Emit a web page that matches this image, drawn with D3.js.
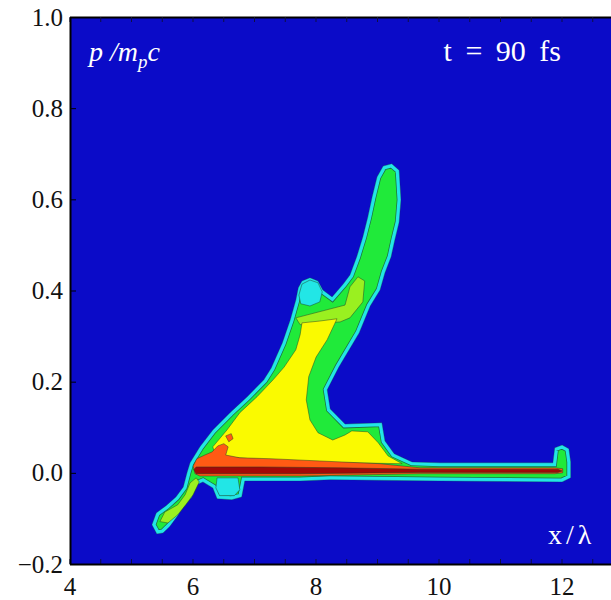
<!DOCTYPE html>
<html>
<head>
<meta charset="utf-8">
<title>Proton phase space, t = 90 fs</title>
<script src="https://cdn.jsdelivr.net/npm/d3@7"></script>
<style>
  body { margin: 0; padding: 0; background: #fff; }
  svg { display: block; }
  .axis path, .axis line { stroke: #000; }
  .axis .domain { stroke-width: 2; }
  .axis text { font-family: 'Liberation Serif', 'Times New Roman', serif; font-size: 25px; fill: #111; }
  .minor line { stroke: #101040; }
  .label { fill: #fff; font-family: 'Liberation Serif', 'Times New Roman', serif; }
  .contour { stroke: #1d3a26; stroke-width: 0.8; stroke-opacity: 0.6; }
</style>
</head>
<body>
<div id="vis"></div>
<script>
// axis ticks
var xTicks = [4, 6, 8, 10, 12],
    yTicks = [-0.2, 0, 0.2, 0.4, 0.6, 0.8, 1.0],
    xMinor = [4, 4.5, 5, 5.5, 6, 6.5, 7, 7.5, 8, 8.5, 9, 9.5, 10, 10.5, 11, 11.5, 12, 12.5];

// contour polygons, [x/lambda, p/mpc]
// outermost level (cyan edge, green inside)
var envelope = [
  [9.10, 0.673], [9.24, 0.678], [9.36, 0.664], [9.39, 0.599], [9.36, 0.550], [9.29, 0.511],
  [9.23, 0.474], [9.13, 0.439], [9.05, 0.401], [8.89, 0.366], [8.71, 0.307], [8.38, 0.232],
  [8.19, 0.182], [8.24, 0.140], [8.48, 0.107], [9.08, 0.110], [9.13, 0.070], [9.28, 0.042],
  [9.57, 0.024], [10.02, 0.022], [11.86, 0.022], [11.89, 0.055], [12.01, 0.061], [12.12, 0.053],
  [12.15, 0.024], [12.15, -0.011], [12.01, -0.020], [10.02, -0.018], [8.24, -0.015], [7.75, -0.018],
  [6.85, -0.018], [6.80, -0.053], [6.64, -0.059], [6.40, -0.057], [6.33, -0.033], [6.17, -0.020],
  [6.07, -0.026], [5.99, -0.053], [5.85, -0.075], [5.75, -0.096], [5.63, -0.118], [5.52, -0.132],
  [5.42, -0.134], [5.34, -0.114], [5.41, -0.088], [5.57, -0.072], [5.73, -0.053], [5.85, -0.031],
  [5.91, 0.000], [5.96, 0.022], [6.12, 0.057], [6.33, 0.094], [6.61, 0.132], [6.89, 0.167],
  [7.16, 0.204], [7.28, 0.230], [7.46, 0.285], [7.59, 0.336], [7.68, 0.379], [7.72, 0.406],
  [7.78, 0.421], [7.91, 0.428], [8.04, 0.421], [8.12, 0.401], [8.27, 0.386], [8.45, 0.414],
  [8.56, 0.434], [8.67, 0.474], [8.77, 0.518], [8.85, 0.561], [8.92, 0.605], [9.00, 0.649]
];

var cyanPatches = [
  [[7.73, 0.390], [7.78, 0.414], [7.91, 0.423], [8.04, 0.417], [8.11, 0.397], [8.07, 0.375], [7.91, 0.366], [7.76, 0.371]],
  [[6.40, -0.011], [6.74, -0.011], [6.77, -0.037], [6.68, -0.050], [6.44, -0.050], [6.38, -0.033]]
];

var lightGreenPatches = [
  [[5.47, -0.107], [5.55, -0.086], [5.76, -0.070], [5.88, -0.048], [5.96, -0.022], [6.06, -0.011],
   [6.11, -0.020], [6.01, -0.048], [5.89, -0.070], [5.76, -0.092], [5.60, -0.110]],
  [[7.68, 0.340], [8.48, 0.368], [8.56, 0.408], [8.69, 0.430], [8.80, 0.421], [8.77, 0.375],
   [8.56, 0.340], [8.40, 0.331], [7.75, 0.325]]
];

var yellowPatches = [
  [[7.78, 0.329], [8.07, 0.333], [8.35, 0.338], [8.19, 0.292], [8.01, 0.254], [7.89, 0.211],
   [7.85, 0.160], [7.91, 0.116], [8.04, 0.088], [8.28, 0.072], [8.48, 0.083], [8.59, 0.092],
   [8.85, 0.090], [9.02, 0.066], [9.18, 0.037], [9.41, 0.020], [7.75, 0.024], [6.93, 0.031],
   [6.53, 0.035], [6.37, 0.039], [6.33, 0.057], [6.56, 0.094], [6.77, 0.132], [7.05, 0.167],
   [7.31, 0.204], [7.49, 0.232], [7.68, 0.270], [7.75, 0.303]]
];

var orangePatches = [
  [[6.01, 0.015], [6.07, 0.031], [6.20, 0.039], [6.32, 0.046], [6.41, 0.059], [6.51, 0.064],
   [6.58, 0.057], [6.54, 0.039], [6.77, 0.033], [7.26, 0.031], [8.07, 0.026], [9.05, 0.020],
   [9.70, 0.011], [11.89, 0.011], [12.02, 0.009], [12.02, 0.000], [11.89, -0.002], [9.70, -0.002],
   [7.75, -0.007], [6.12, -0.007], [6.04, -0.002]],
  [[6.54, 0.081], [6.63, 0.086], [6.66, 0.075], [6.59, 0.068]]
];

var darkRedPatches = [
  [[6.06, 0.013], [7.10, 0.013], [8.40, 0.011], [9.70, 0.008], [11.94, 0.008], [12.01, 0.004],
   [11.94, 0.001], [9.70, 0.001], [7.75, -0.002], [6.06, -0.002], [6.02, 0.007]]
];

var colors = {
  blue: '#0b0bc8',
  cyan: '#22e6e6',
  green: '#20ea3a',
  lightGreen: '#9af020',
  yellow: '#fafa00',
  orange: '#ff5a14',
  darkRed: '#a20808'
};

var width = 611, height = 600,
    plotLeft = 70, plotTop = 17, plotBottom = 564;

var x = d3.scaleLinear().domain([4, 13]).range([69.5, 69.5 + 9 * 61.5]);
var y = d3.scaleLinear().domain([-0.2, 1.0]).range([plotBottom, plotTop]);

var line = d3.line()
  .x(function(d) { return x(d[0]); })
  .y(function(d) { return y(d[1]); })
  .curve(d3.curveLinearClosed);

var svg = d3.select('#vis').append('svg')
  .attr('width', width)
  .attr('height', height);

var defs = svg.append('defs');
defs.append('clipPath').attr('id', 'plot-clip')
  .append('rect')
  .attr('x', plotLeft).attr('y', plotTop)
  .attr('width', width - plotLeft).attr('height', plotBottom - plotTop);
defs.append('clipPath').attr('id', 'env-clip')
  .append('path').attr('d', line(envelope));

var plot = svg.append('g').attr('clip-path', 'url(#plot-clip)');

plot.append('rect')
  .attr('x', plotLeft).attr('y', plotTop)
  .attr('width', width - plotLeft).attr('height', plotBottom - plotTop)
  .attr('fill', colors.blue);

// outer level: green inside, cyan band along the edge
var env = plot.append('g').attr('clip-path', 'url(#env-clip)');
env.append('path').attr('d', line(envelope)).attr('fill', colors.green);
env.append('path').attr('d', line(envelope)).attr('fill', 'none')
  .attr('stroke', '#1d3a46').attr('stroke-width', 8.5).attr('stroke-opacity', 0.7);
env.append('path').attr('d', line(envelope)).attr('fill', 'none')
  .attr('stroke', colors.cyan).attr('stroke-width', 7);
plot.append('path').attr('d', line(envelope)).attr('fill', 'none')
  .attr('stroke', '#14207a').attr('stroke-width', 1).attr('stroke-opacity', 0.35);

var levels = [
  { fill: colors.cyan, shapes: cyanPatches },
  { fill: colors.lightGreen, shapes: lightGreenPatches },
  { fill: colors.yellow, shapes: yellowPatches },
  { fill: colors.orange, shapes: orangePatches },
  { fill: colors.darkRed, shapes: darkRedPatches }
];

levels.forEach(function(lv) {
  plot.append('g')
    .selectAll('path')
    .data(lv.shapes)
    .enter().append('path')
      .attr('class', 'contour')
      .attr('d', line)
      .attr('fill', lv.fill);
});

// axes
svg.append('g')
  .attr('class', 'axis minor')
  .attr('transform', 'translate(0,' + plotBottom + ')')
  .call(d3.axisBottom(x).tickValues(xMinor).tickSize(-5).tickSizeOuter(0).tickFormat(''))
  .select('.domain').remove();

svg.append('g')
  .attr('class', 'axis minor')
  .attr('transform', 'translate(0,' + plotTop + ')')
  .call(d3.axisTop(x).tickValues(xMinor).tickSize(-5).tickSizeOuter(0).tickFormat(''));

svg.append('g')
  .attr('class', 'axis')
  .attr('transform', 'translate(0,' + plotBottom + ')')
  .call(d3.axisBottom(x).tickValues(xTicks).tickSize(0).tickPadding(13).tickFormat(d3.format('d')));

svg.append('g')
  .attr('class', 'axis')
  .attr('transform', 'translate(' + plotLeft + ',0)')
  .call(d3.axisLeft(y).tickValues(yTicks).tickSize(-6).tickSizeOuter(0).tickPadding(7).tickFormat(d3.format('.1f')));

// labels inside the plot
var pl = svg.append('text')
  .attr('class', 'label')
  .attr('x', 89).attr('y', 61)
  .style('font-size', '28px')
  .style('font-style', 'italic');
pl.append('tspan').text('p /m');
pl.append('tspan').attr('dy', 7).style('font-size', '19px').text('p');
pl.append('tspan').attr('dy', -7).text('c');

svg.append('text')
  .attr('class', 'label')
  .attr('x', 561).attr('y', 61)
  .attr('text-anchor', 'end')
  .style('font-size', '30px')
  .style('word-spacing', '6px')
  .text('t = 90 fs');

svg.append('text')
  .attr('class', 'label')
  .attr('x', 548).attr('y', 544)
  .style('font-size', '28px')
  .style('letter-spacing', '4px')
  .text('x/λ');
</script>
</body>
</html>
